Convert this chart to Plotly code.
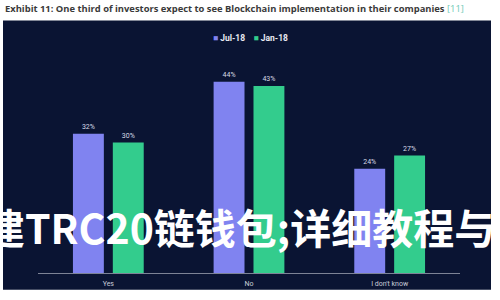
import plotly.graph_objects as go

categories = ["Yes", "No", "I don't know"]
jul18 = [32, 44, 24]
jan18 = [30, 43, 27]
series_names = ["Jul-18", "Jan-18"]
series_colors = ["#8083f0", "#33cc8d"]
title_text = "Exhibit 11: One third of investors expect to see Blockchain implementation in their companies"
title_ref = "[11]"
overlay_text = "建TRC20链钱包;详细教程与注"

W, H = 500, 300
L, R, T, B = 38, 40, 60, 24
pw, ph = W - L - R, H - T - B

def px_x(p):
    return (p - L) / pw

def px_y(p):
    return (H - B - p) / ph

fig = go.Figure()
for name, vals, col in zip(series_names, [jul18, jan18], series_colors):
    fig.add_trace(go.Bar(
        x=categories, y=vals, name=name,
        marker=dict(color=col, line=dict(width=0)),
        text=[f"{v}%" for v in vals], textposition="outside",
        textfont=dict(color="#d8dbe6", size=7, family="Roboto"),
        cliponaxis=False,
    ))

legend_html = "&nbsp;&nbsp;&nbsp;&nbsp;".join(
    f"<span style='color:{c}'>■</span> <b>{n}</b>" for n, c in zip(series_names, series_colors)
)

fig.update_layout(
    width=W, height=H,
    margin=dict(l=L, r=R, t=T, b=B, pad=0),
    paper_bgcolor="white",
    plot_bgcolor="rgba(0,0,0,0)",
    barmode="group",
    bargap=0.433,
    bargroupgap=0.225,
    showlegend=False,
    xaxis=dict(
        showgrid=False, zeroline=False, showline=True, linecolor="#7d8396", linewidth=1,
        ticks="", tickfont=dict(color="#c8ccd8", size=7, family="Roboto"),
        ticklabelstandoff=4,
    ),
    yaxis=dict(
        range=[0, ph / 4.409], showgrid=False, zeroline=False, showticklabels=False,
        showline=False,
    ),
    shapes=[dict(
        type="rect", xref="paper", yref="paper", layer="below",
        x0=px_x(3), x1=px_x(491), y0=px_y(293), y1=px_y(20),
        fillcolor="#0a1433", line=dict(width=0),
    )],
    annotations=[
        dict(
            xref="paper", yref="paper", x=px_x(3), y=px_y(8),
            xanchor="left", yanchor="middle", showarrow=False,
            text=f"<b>{title_text}</b> <span style='color:#6fcab6'>{title_ref}</span>",
            font=dict(color="#3a3a3a", size=9.4, family="Open Sans"),
        ),
        dict(
            xref="paper", yref="paper", x=px_x(250), y=px_y(38),
            xanchor="center", yanchor="middle", showarrow=False,
            text=legend_html,
            font=dict(color="#e8eaf2", size=8.5, family="Roboto"),
        ),
        dict(
            xref="paper", yref="paper", x=px_x(-18), y=px_y(228),
            xanchor="left", yanchor="middle", showarrow=False,
            text=f"<b>{overlay_text}</b>",
            font=dict(color="white", size=41, family="Noto Sans CJK SC"),
        ),
    ],
)

fig.write_html("out.html")
